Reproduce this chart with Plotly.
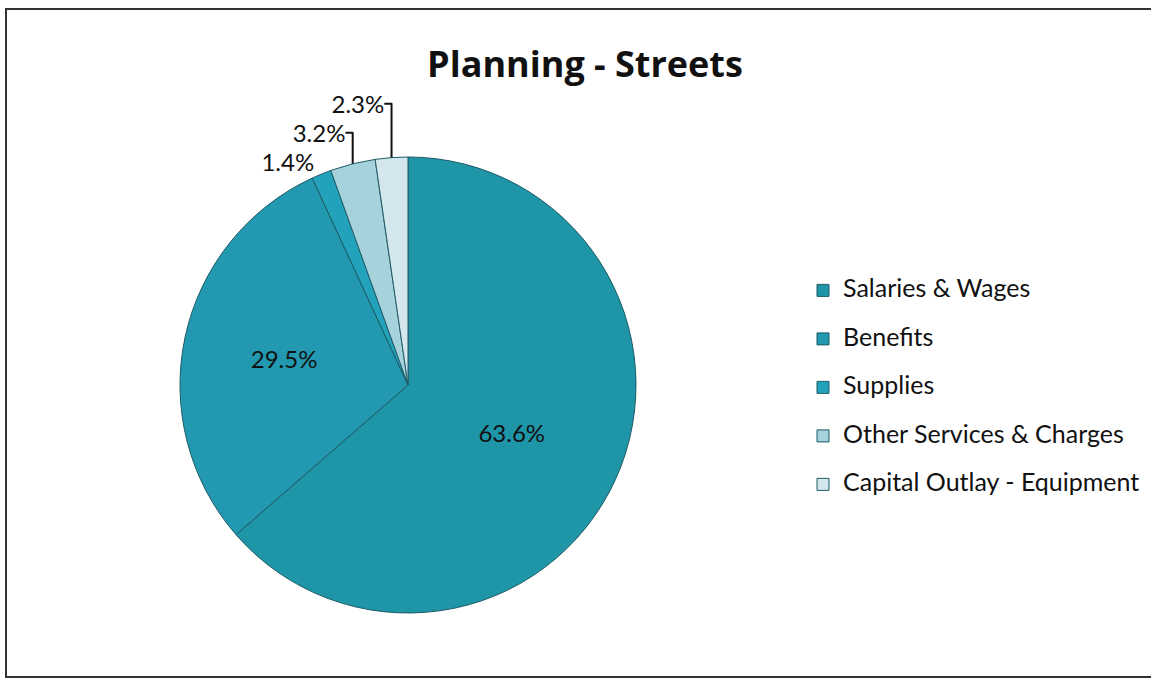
import plotly.graph_objects as go

W, H = 1151, 682

categories = ["Salaries & Wages", "Benefits", "Supplies",
              "Other Services & Charges", "Capital Outlay - Equipment"]
values = [63.6, 29.5, 1.4, 3.2, 2.3]
colors = ["#1f95a8", "#2299b0", "#22a3bb", "#a6d2dc", "#d4e7ec"]
title_text = "Planning - Streets"

FONT = "Lato, 'Open Sans', sans-serif"

def px(x):
    return x / W

def py(y):
    return 1 - y / H

# legend entries: larger text in a span, with an empty second line to widen row spacing
legend_labels = ["<span style='font-size:25px'>" + c + "</span><br> " for c in categories]

fig = go.Figure()
fig.add_trace(go.Pie(
    labels=legend_labels,
    values=values,
    sort=False,
    direction="clockwise",
    rotation=0,
    marker=dict(colors=colors, line=dict(color="#1d5b66", width=1)),
    texttemplate="%{value:.1f}%",
    textposition=["inside", "inside", "outside", "outside", "outside"],
    insidetextorientation="horizontal",
    textfont=dict(family=FONT, size=24, color="#111111"),
    outsidetextfont=dict(family=FONT, size=24, color="#111111"),
    domain=dict(x=[px(178), px(638)], y=[py(613), py(157)]),
    hovertext=categories,
    hoverinfo="text+percent",
))

fig.update_layout(
    width=W, height=H,
    margin=dict(l=0, r=0, t=0, b=0),
    paper_bgcolor="white",
    plot_bgcolor="white",
    title=dict(text="<b>" + title_text + "</b>",
               font=dict(family="'Open Sans', sans-serif", size=36, color="#111111"),
               x=px(585), xanchor="center", y=py(64), yanchor="middle"),
    legend=dict(x=px(803), y=py(399), xanchor="left", yanchor="middle",
                font=dict(family=FONT, size=17.5, color="#111111"),
                valign="top",
                itemwidth=30, bgcolor="rgba(0,0,0,0)"),
    shapes=[dict(type="rect", xref="paper", yref="paper",
                 x0=px(6), x1=px(1160), y0=py(677), y1=py(9),
                 line=dict(color="#333333", width=2), fillcolor="rgba(0,0,0,0)")],
)

fig.write_html("out.html", config={"displayModeBar": False})

with open("out.html", "r", encoding="utf-8") as f:
    html = f.read()
html = html.replace("<body>", "<body style=\"margin:0;overflow:hidden\">", 1)
with open("out.html", "w", encoding="utf-8") as f:
    f.write(html)
